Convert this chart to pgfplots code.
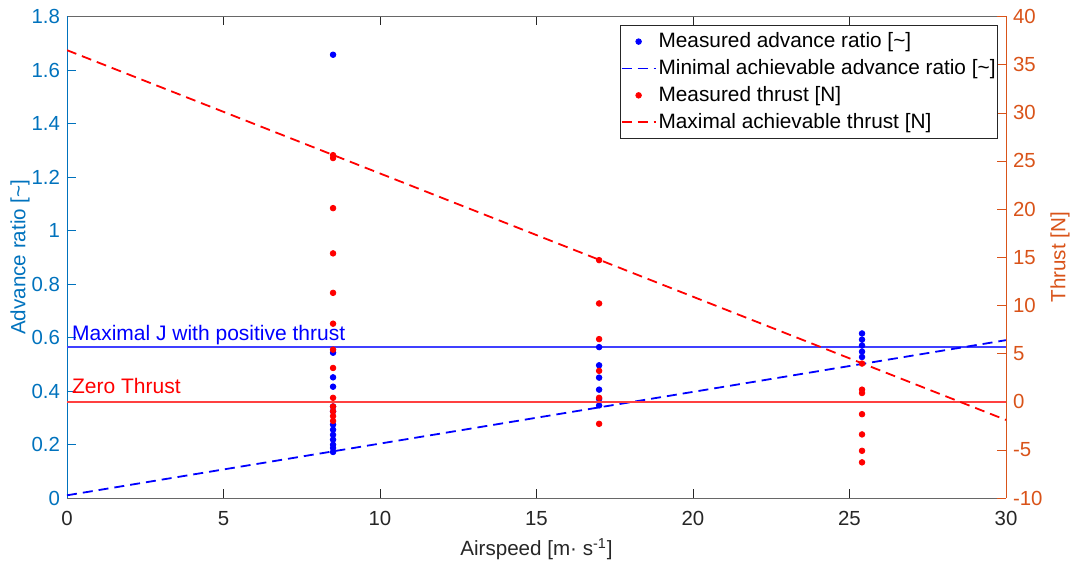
\documentclass[border=0pt]{standalone}
\usepackage{fontspec}
\setmainfont{Liberation Sans}
\usepackage{pgfplots}
\pgfplotsset{compat=1.18}

\definecolor{leftc}{RGB}{0,114,189}
\definecolor{rightc}{RGB}{217,83,25}
\definecolor{axgray}{RGB}{38,38,38}

\tikzset{mdash/.style={line width=0.9pt, dash pattern=on 5pt off 3pt}}

\pgfplotsset{
  common/.style={
    width=469.5pt, height=240.75pt, scale only axis,
    xmin=0, xmax=30,
    tick align=inside,
    major tick length=4.5pt,
    /pgf/number format/assume math mode=true,
    tick label style={font=\fontsize{10.2}{12}\selectfont},
    label style={font=\fontsize{10.3}{12}\selectfont},
  },
}

\begin{document}
\begin{tikzpicture}
% left axis: advance ratio
\begin{axis}[common,
  axis x line*=box, axis y line*=left,
  ymin=0, ymax=1.8,
  ytick={0,0.2,0.4,0.6,0.8,1,1.2,1.4,1.6,1.8},
  yticklabels={0,0.2,0.4,0.6,0.8,1,1.2,1.4,1.6,1.8},
  xtick={0,5,10,15,20,25,30},
  x axis line style={axgray!70},
  x tick style={axgray},
  xticklabel style={text=axgray, yshift=-3pt},
  y axis line style={leftc},
  y tick style={leftc},
  yticklabel style={text=leftc},
  xlabel={Airspeed [m· s\textsuperscript{-1}]},
  xlabel style={text=axgray, at={(axis description cs:0.5,-0.106)}, anchor=center},
  ylabel={Advance ratio [\textasciitilde]},
  ylabel style={text=leftc, at={(axis description cs:-0.05,0.5)}, anchor=center},
]
\addplot[blue!75, line width=0.9pt, forget plot] coordinates {(0,0.5637) (30,0.5637)};
\node[anchor=base west, text=blue, font=\fontsize{10.5}{12}\selectfont, inner sep=0pt] at (axis cs:0.15,0.588) {Maximal J with positive thrust};
\node[anchor=base west, text=red, font=\fontsize{10.5}{12}\selectfont, inner sep=0pt] at (axis cs:0.15,0.389) {Zero Thrust};
\addplot[blue, only marks, mark=*, mark size=1.4pt] coordinates {
  (8.5,1.657) (8.5,0.543) (8.5,0.451) (8.5,0.416) (8.5,0.342) (8.5,0.324)
  (8.5,0.274) (8.5,0.255) (8.5,0.236) (8.5,0.218) (8.5,0.199) (8.5,0.187) (8.5,0.172)
  (17,0.564) (17,0.496) (17,0.45) (17,0.405) (17,0.37) (17,0.346)
  (25.4,0.615) (25.4,0.592) (25.4,0.57) (25.4,0.547) (25.4,0.527)
};
\addplot[blue, mdash] coordinates {(0,0.01) (30,0.59)};
\end{axis}

% right axis: thrust
\begin{axis}[common,
  axis x line=none, axis y line*=right,
  ymin=-10, ymax=40,
  ytick={-10,-5,0,5,10,15,20,25,30,35,40},
  y axis line style={rightc},
  y tick style={rightc},
  yticklabel style={text=rightc},
  ylabel={Thrust [N]},
  ylabel style={text=rightc, at={(axis description cs:1.0575,0.5)}, anchor=center},
  legend style={at={(0.9915,0.982)}, anchor=north east, draw=axgray,
    fill=white, font=\fontsize{10.4}{12}\selectfont, inner xsep=0pt, inner ysep=1.5pt,
    row sep=0.4pt, nodes={inner xsep=1pt}},
  legend cell align=left,
]
\addlegendimage{blue, only marks, mark=*, mark size=1.4pt}
\addlegendentry{Measured advance ratio [\textasciitilde]}
\addlegendimage{legend image code/.code={\draw[blue, line width=0.9pt, dash pattern=on 5pt off 3pt] (0cm,0cm) -- (0.6cm,0cm);}}
\addlegendentry{Minimal achievable advance ratio [\textasciitilde]}
\addplot[red!75, line width=0.9pt, forget plot] coordinates {(0,0) (30,0)};
\addplot[red, only marks, mark=*, mark size=1.4pt] coordinates {
  (8.5,25.6) (8.5,25.3) (8.5,20.1) (8.5,15.4) (8.5,11.3) (8.5,8.1) (8.5,5.4)
  (8.5,3.5) (8.5,0.4) (8.5,-0.5) (8.5,-1.0) (8.5,-1.5) (8.5,-2.0)
  (17,14.7) (17,10.2) (17,6.5) (17,3.2) (17,0.4) (17,-2.3)
  (25.4,3.96) (25.4,1.25) (25.4,0.9) (25.4,-1.3) (25.4,-3.4) (25.4,-5.1) (25.4,-6.3)
};
\addlegendentry{Measured thrust [N]}
\addplot[red, mdash] coordinates {(0,36.5) (30,-1.9)};
\addlegendentry{Maximal achievable thrust [N]}
\end{axis}
\pgfresetboundingbox
\path ([shift={(-33.5pt,-32.5pt)}]current axis.south west) rectangle ([shift={(32pt,8.25pt)}]current axis.north east);
\end{tikzpicture}
\end{document}
